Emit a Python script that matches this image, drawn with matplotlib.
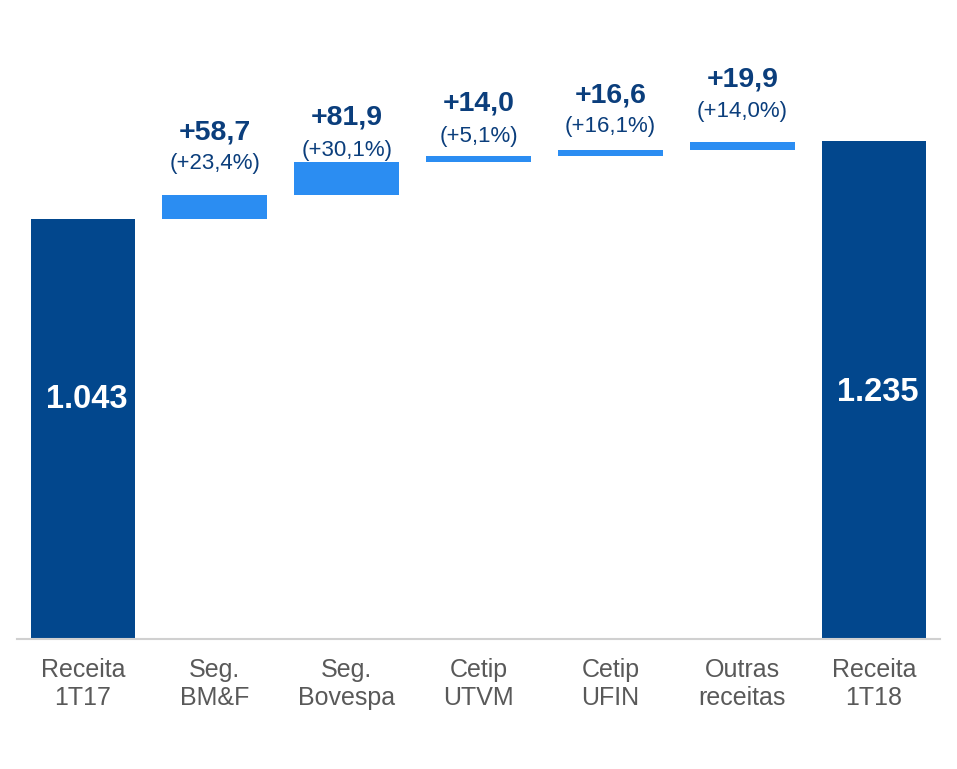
import matplotlib
matplotlib.use("Agg")
import matplotlib.pyplot as plt
import numpy as np

plt.rcParams['font.family'] = ['Liberation Sans', 'DejaVu Sans']

# dados da cascata
categorias = ["Receita\n1T17", "Seg.\nBM&F", "Seg.\nBovespa", "Cetip\nUTVM",
              "Cetip\nUFIN", "Outras\nreceitas", "Receita\n1T18"]
receita_1t17 = 1043
receita_1t18 = 1235
variacoes = [58.7, 81.9, 14.0, 16.6, 19.9]
var_labels = ["+58,7", "+81,9", "+14,0", "+16,6", "+19,9"]
pct_labels = ["(+23,4%)", "(+30,1%)", "(+5,1%)", "(+16,1%)", "(+14,0%)"]
total_labels = ["1.043", "1.235"]

azul_escuro = "#02478D"
azul_claro = "#2B8DF2"
texto_azul = "#0B3E7C"
cinza = "#595959"

fig = plt.figure(figsize=(9.57, 7.69), dpi=100)
ax = fig.add_axes([0.0178, 0.1697, 0.9644, 0.8303])

x = np.arange(len(categorias))
w = 0.795

# barras totais
ax.bar([x[0], x[-1]], [receita_1t17, receita_1t18], width=w, color=azul_escuro, zorder=2)

# barras de variação
bases = receita_1t17 + np.concatenate([[0], np.cumsum(variacoes)[:-1]])
ax.bar(x[1:-1], variacoes, bottom=bases, width=w, color=azul_claro, zorder=2)

# rótulos acima das variações (deslocamentos em pontos)
off_pct = [23, 8, 14, 17, 22]
off_val = [45, 32, 38, 39, 45]
for i in range(len(variacoes)):
    topo = bases[i] + variacoes[i]
    ax.annotate(pct_labels[i], (x[i + 1], topo), xytext=(0, off_pct[i]),
                textcoords="offset points", ha="center", va="center",
                fontsize=16, color=texto_azul)
    ax.annotate(var_labels[i], (x[i + 1], topo), xytext=(0, off_val[i]),
                textcoords="offset points", ha="center", va="center",
                fontsize=20.5, fontweight="bold", color=texto_azul)

# rótulos dentro das barras totais
ax.text(x[0] + 0.03, 593, total_labels[0], ha="center", va="center",
        fontsize=23.5, fontweight="bold", color="white", zorder=3)
ax.text(x[-1] + 0.03, 611, total_labels[1], ha="center", va="center",
        fontsize=23.5, fontweight="bold", color="white", zorder=3)

ax.set_xlim(-0.5, 6.5)
ax.set_ylim(0, 1586)
ax.set_xticks(x)
ax.set_xticklabels(categorias, fontsize=18, color=cinza, linespacing=1.2)
ax.tick_params(axis="x", length=0, pad=14)
ax.set_yticks([])
for s in ["top", "left", "right"]:
    ax.spines[s].set_visible(False)
ax.spines["bottom"].set_color("#D0D0D0")
ax.spines["bottom"].set_linewidth(1.5)

fig.savefig("out.png", dpi=100)
